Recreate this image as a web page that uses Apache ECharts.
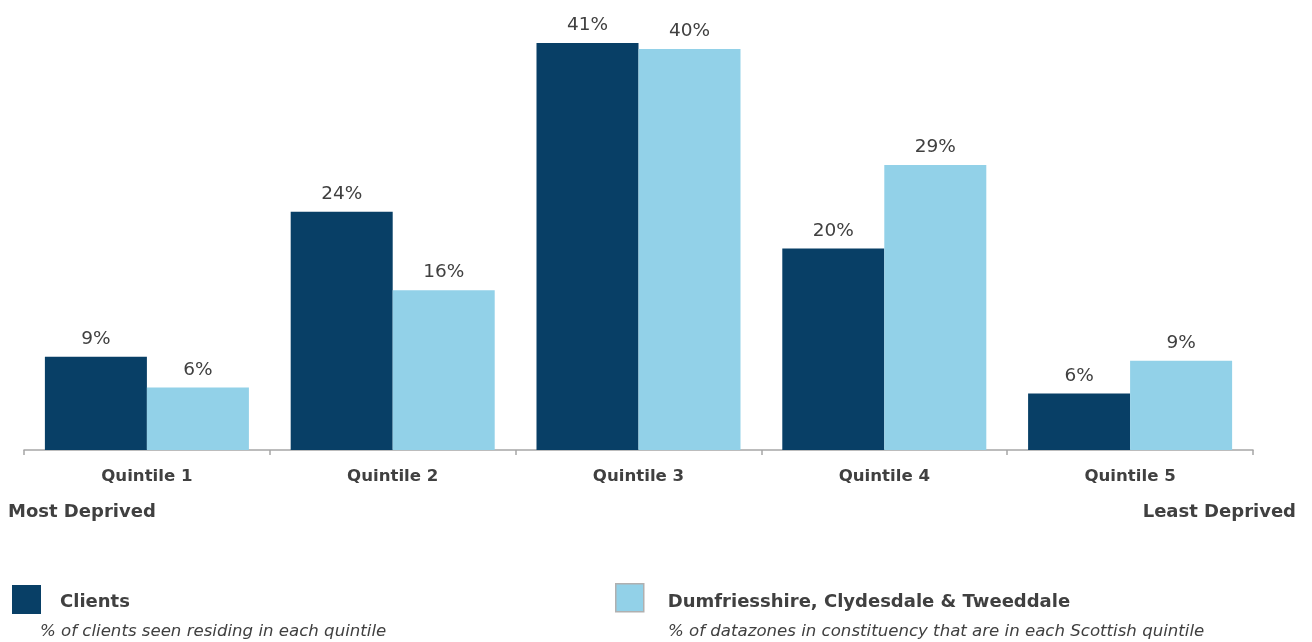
<!DOCTYPE html>
<html><head><meta charset="utf-8">
<script src="https://cdn.jsdelivr.net/npm/echarts@6/dist/echarts.min.js"></script>
<style>html,body{margin:0;padding:0;background:#fff}#c{width:1312px;height:642px}</style>
</head><body><div id="c"></div>
<script>
const categories = ['Quintile 1','Quintile 2','Quintile 3','Quintile 4','Quintile 5'];
const clients = [9.4, 24.0, 41.0, 20.3, 5.7];
const constituency = [6.3, 16.1, 40.4, 28.7, 9.0];
const seriesNames = ['Clients','Dumfriesshire, Clydesdale & Tweeddale'];
const seriesNotes = ['% of clients seen residing in each quintile','% of datazones in constituency that are in each Scottish quintile'];
const endLabels = ['Most Deprived','Least Deprived'];

const FONT = 'DejaVu Sans';
const TXT = '#404040';
const DARK = '#083F66';
const LIGHT = '#92D1E8';
const chart = echarts.init(document.getElementById('c'));
const lbl = {show:true, position:'top', distance:8, color:TXT, fontFamily:FONT, fontSize:18.5,
  formatter:p=>Math.round(p.value)+'%'};
const legText = (pad) => ({color:TXT, fontFamily:FONT, fontWeight:'bold', fontSize:18,
  rich:{a:{color:TXT, fontFamily:FONT, fontWeight:'bold', fontSize:18, padding:[pad,0,0,0]}}});
chart.setOption({
  animation:false,
  grid:{left:24, right:59, top:43, bottom:192},
  xAxis:{type:'category', data:categories,
    axisLine:{lineStyle:{color:'#a6a6a6', width:1.5}},
    axisTick:{show:true, length:5, lineStyle:{color:'#a6a6a6', width:1.5}},
    axisLabel:{color:TXT, fontFamily:FONT, fontWeight:'bold', fontSize:16.6, margin:18}},
  yAxis:{type:'value', min:0, max:41, show:false, splitLine:{show:false}},
  legend:[
    {data:[seriesNames[0]], left:12, top:585, padding:0, itemWidth:29, itemHeight:29, icon:'rect',
     formatter:n=>'{a|'+n+'}', textStyle:Object.assign(legText(6),{padding:[0,0,0,14]})},
    {data:[{name:seriesNames[1], itemStyle:{borderColor:'#b0b0b0', borderWidth:1.5}}], left:615, top:583, padding:0, itemWidth:28, itemHeight:28, icon:'rect',
     formatter:n=>'{a|'+n+'}', textStyle:Object.assign(legText(10),{padding:[0,0,0,19]})}
  ],
  graphic:[
    {type:'text', left:8, top:503, style:{text:endLabels[0], fill:TXT, font:'bold 18px "DejaVu Sans"'}},
    {type:'text', right:16, top:503, style:{text:endLabels[1], fill:TXT, font:'bold 18px "DejaVu Sans"'}},
    {type:'text', left:40, top:623, style:{text:seriesNotes[0], fill:TXT, font:'italic 16.6px "DejaVu Sans"'}},
    {type:'text', left:668, top:623, style:{text:seriesNotes[1], fill:TXT, font:'italic 16.6px "DejaVu Sans"'}}
  ],
  series:[
    {name:seriesNames[0], type:'bar', data:clients, barGap:'0%', barCategoryGap:'17%',
     itemStyle:{color:DARK}, label:lbl},
    {name:seriesNames[1], type:'bar', data:constituency,
     itemStyle:{color:LIGHT}, label:lbl}
  ]
});
</script></body></html>
